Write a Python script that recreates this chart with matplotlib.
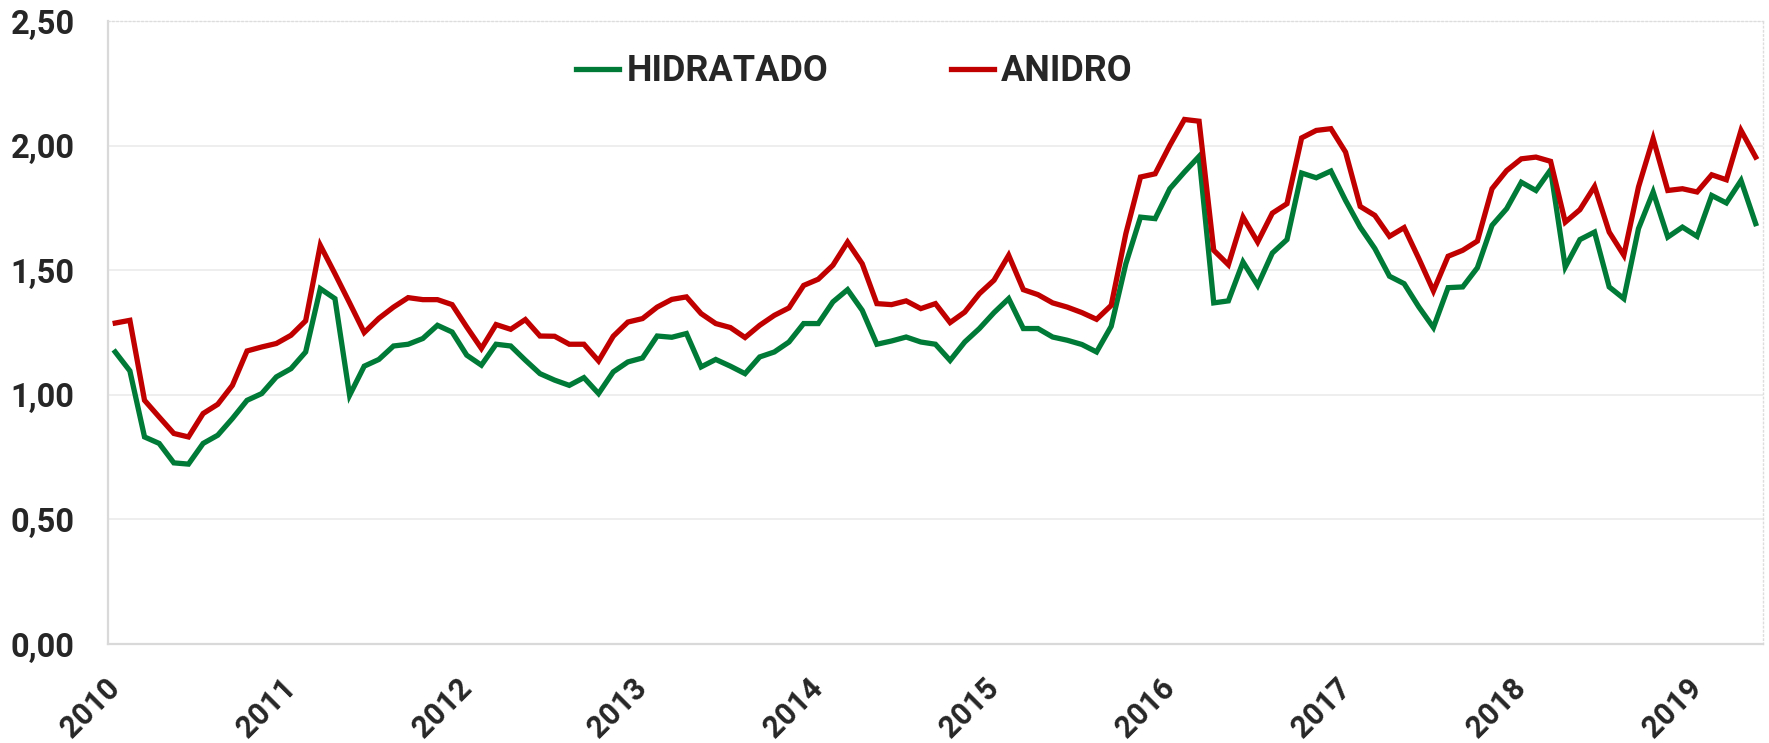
import numpy as np
import matplotlib
matplotlib.use("Agg")
import matplotlib.pyplot as plt

# monthly series, Jan/2010 .. May/2019
hidratado = [1.172, 1.096, 0.831, 0.805, 0.727, 0.722, 0.805, 0.838, 0.905, 0.978,
             1.005, 1.072, 1.105, 1.172, 1.426, 1.386, 0.998, 1.115, 1.142, 1.196,
             1.203, 1.226, 1.279, 1.252, 1.159, 1.119, 1.203, 1.196, 1.139, 1.085,
             1.059, 1.038, 1.069, 1.005, 1.092, 1.132, 1.148, 1.236, 1.231, 1.246,
             1.112, 1.142, 1.115, 1.085, 1.152, 1.172, 1.212, 1.286, 1.286, 1.373,
             1.422, 1.339, 1.203, 1.216, 1.232, 1.212, 1.203, 1.138, 1.212, 1.266,
             1.330, 1.386, 1.266, 1.266, 1.232, 1.219, 1.202, 1.172, 1.275, 1.526,
             1.713, 1.707, 1.827, 1.894, 1.957, 1.369, 1.377, 1.533, 1.439, 1.569,
             1.623, 1.890, 1.871, 1.898, 1.780, 1.673, 1.587, 1.476, 1.446, 1.353,
             1.270, 1.430, 1.433, 1.510, 1.680, 1.747, 1.853, 1.820, 1.903, 1.513,
             1.623, 1.653, 1.433, 1.386, 1.667, 1.814, 1.633, 1.673, 1.636, 1.800,
             1.770, 1.860, 1.687]
anidro = [1.288, 1.299, 0.978, 0.911, 0.845, 0.831, 0.925, 0.962, 1.038, 1.176,
          1.192, 1.206, 1.239, 1.297, 1.600, 1.486, 1.369, 1.250, 1.307, 1.352,
          1.390, 1.382, 1.382, 1.362, 1.272, 1.186, 1.282, 1.263, 1.302, 1.236,
          1.235, 1.203, 1.203, 1.136, 1.235, 1.292, 1.306, 1.352, 1.383, 1.393,
          1.326, 1.286, 1.270, 1.230, 1.279, 1.319, 1.349, 1.439, 1.464, 1.520,
          1.613, 1.526, 1.366, 1.362, 1.377, 1.346, 1.366, 1.290, 1.332, 1.406,
          1.460, 1.560, 1.422, 1.402, 1.369, 1.352, 1.330, 1.303, 1.359, 1.647,
          1.874, 1.887, 2.001, 2.105, 2.098, 1.580, 1.522, 1.713, 1.613, 1.729,
          1.767, 2.031, 2.061, 2.068, 1.974, 1.756, 1.720, 1.636, 1.671, 1.547,
          1.417, 1.556, 1.580, 1.617, 1.827, 1.900, 1.947, 1.954, 1.937, 1.693,
          1.743, 1.836, 1.653, 1.560, 1.834, 2.028, 1.820, 1.827, 1.814, 1.883,
          1.863, 2.061, 1.954]
years = ["2010", "2011", "2012", "2013", "2014", "2015", "2016", "2017", "2018", "2019"]
y_ticks = [0.0, 0.5, 1.0, 1.5, 2.0, 2.5]
y_labels = ["0,00", "0,50", "1,00", "1,50", "2,00", "2,50"]

plt.rcParams['font.family'] = ['Roboto', 'DejaVu Sans']
text_color = '#262626'

fig = plt.figure(figsize=(17.69, 7.43), dpi=100)
ax = fig.add_axes([0.061, 0.1332, 0.9356, 0.8385])

x = np.arange(len(anidro))
ax.plot(x, hidratado, color='#007a37', lw=3.8, label='HIDRATADO', solid_joinstyle='miter')
ax.plot(x, anidro, color='#c00000', lw=3.8, label='ANIDRO', solid_joinstyle='miter')

ax.set_xlim(-0.5, len(anidro) - 0.5)
ax.set_ylim(0, 2.5)
ax.set_yticks(y_ticks)
ax.set_yticklabels(y_labels, fontsize=23.5, fontweight='bold', color=text_color)
# year labels under each January
ax.set_xticks(np.arange(len(years)) * 12)
ax.set_xticklabels(years, fontsize=22, fontweight='bold', color=text_color,
                   rotation=45, ha='right', va='center', rotation_mode='anchor')
ax.tick_params(axis='y', length=0, pad=24)
ax.tick_params(axis='x', length=0, pad=28)

ax.grid(axis='y', color='#ebebeb', lw=1.2)
ax.set_axisbelow(True)
for s in ['left', 'bottom']:
    ax.spines[s].set_color('#d9d9d9')
    ax.spines[s].set_linewidth(1.6)
for s in ['top', 'right']:
    ax.spines[s].set_color('#dddddd')
    ax.spines[s].set_linewidth(1.0)
    ax.spines[s].set_linestyle((0, (1, 2)))

leg = ax.legend(loc='center', bbox_to_anchor=(0.451, 0.919), ncol=2, frameon=False,
                handlelength=1.2, handletextpad=0.2, columnspacing=3.4,
                prop={'family': 'Roboto', 'weight': 'bold', 'size': 26})
for t in leg.get_texts():
    t.set_color(text_color)

fig.savefig('out.png', dpi=100, facecolor='white')
